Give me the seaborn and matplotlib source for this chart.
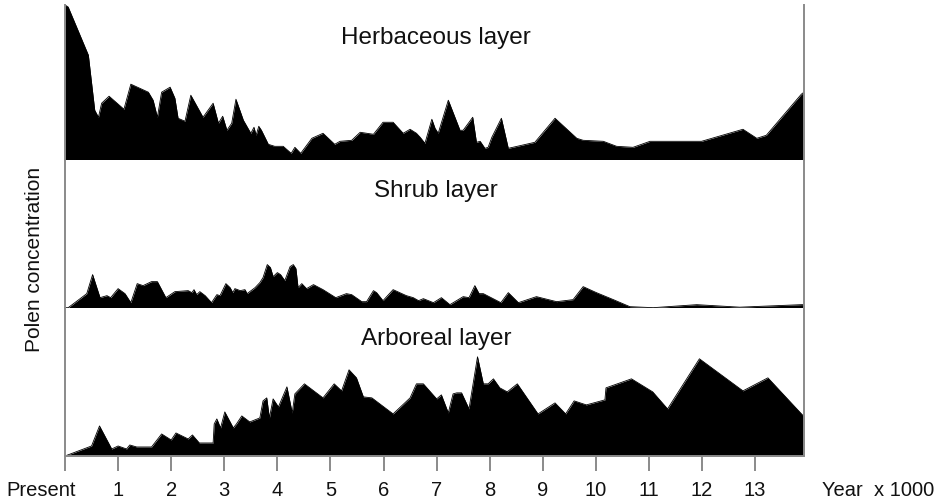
#%%
import numpy as np
import pandas as pd
import matplotlib
matplotlib.use("Agg")
import matplotlib.pyplot as plt
import matplotlib.transforms as mtransforms
import seaborn as sns


#%%
# years x 1000 before present, values in relative concentration units

herb_years = [0.0, 0.06, 0.44, 0.56, 0.63, 0.69, 0.83, 1.11, 1.24, 1.57, 1.66, 1.74, 1.82, 1.98,
              2.07, 2.13, 2.26, 2.37, 2.60, 2.79, 2.89, 2.97, 3.05, 3.14, 3.22, 3.36, 3.50, 3.56,
              3.60, 3.65, 3.70, 3.83, 3.95, 4.11, 4.26, 4.33, 4.44, 4.65, 4.86, 5.08, 5.18, 5.40,
              5.56, 5.81, 5.99, 6.18, 6.37, 6.50, 6.62, 6.69, 6.78, 6.91, 6.97, 7.03, 7.22, 7.44,
              7.50, 7.68, 7.75, 7.82, 7.91, 7.97, 8.04, 8.22, 8.35, 8.85, 9.23, 9.64, 9.76, 10.14,
              10.39, 10.70, 11.02, 11.99, 12.77, 13.03, 13.21, 13.87, 13.92]
herb_values = [155, 153, 105, 50, 43, 57, 64, 51, 76, 68, 60, 43, 68, 73,
               62, 42, 39, 65, 43, 57, 37, 44, 30, 37, 61, 40, 27, 33,
               25, 34, 30, 16, 14, 14, 7, 13, 7, 22, 27, 16, 19, 20,
               28, 26, 38, 38, 27, 31, 27, 23, 17, 41, 32, 27, 60, 30,
               30, 43, 18, 19, 12, 13, 23, 42, 12, 18, 42, 22, 20, 19,
               14, 13, 19, 19, 31, 22, 25, 66, 68]

shrub_years = [0.0, 0.06, 0.41, 0.52, 0.66, 0.79, 0.86, 1.00, 1.13, 1.24, 1.36, 1.47, 1.63, 1.74,
               1.90, 2.07, 2.32, 2.39, 2.43, 2.48, 2.54, 2.64, 2.76, 2.86, 2.92, 3.03, 3.11, 3.16,
               3.20, 3.30, 3.39, 3.43, 3.58, 3.67, 3.73, 3.81, 3.87, 3.92, 4.00, 4.06, 4.14, 4.24,
               4.30, 4.35, 4.39, 4.46, 4.55, 4.68, 4.86, 5.10, 5.30, 5.40, 5.59, 5.68, 5.81, 5.87,
               5.99, 6.18, 6.43, 6.56, 6.66, 6.75, 6.94, 7.09, 7.25, 7.50, 7.61, 7.72, 7.80, 7.88,
               8.21, 8.35, 8.54, 8.88, 9.26, 9.57, 9.76, 10.01, 10.33, 10.64, 11.08, 11.90, 12.71,
               13.87, 13.92]
shrub_values = [0, 0, 14, 33, 10, 12, 10, 19, 14, 5, 24, 22, 26, 26,
                10, 16, 17, 15, 18, 13, 16, 12, 5, 13, 12, 24, 20, 15,
                19, 17, 18, 14, 20, 25, 30, 43, 40, 31, 35, 33, 27, 41,
                43, 39, 20, 24, 19, 23, 18, 10, 14, 13, 6, 6, 17, 15,
                7, 18, 12, 10, 7, 9, 5, 10, 3, 11, 10, 22, 14, 14,
                5, 15, 5, 11, 6, 8, 21, 15, 8, 1, 0, 3, 0.5,
                3, 3]

arbo_years = [0.0, 0.50, 0.65, 0.88, 1.00, 1.16, 1.22, 1.35, 1.63, 1.82, 2.00, 2.09, 2.32, 2.40,
              2.53, 2.79, 2.81, 2.86, 2.93, 3.01, 3.17, 3.23, 3.33, 3.48, 3.67, 3.73, 3.80, 3.85,
              3.92, 4.02, 4.18, 4.28, 4.33, 4.51, 4.86, 5.07, 5.21, 5.35, 5.49, 5.62, 5.78, 6.18,
              6.50, 6.62, 6.75, 7.00, 7.09, 7.22, 7.31, 7.38, 7.47, 7.61, 7.77, 7.88, 7.97, 8.07,
              8.19, 8.33, 8.52, 8.91, 9.23, 9.43, 9.59, 9.82, 10.17, 10.19, 10.67, 11.07, 11.35,
              11.95, 12.77, 13.24, 13.89, 13.92]
arbo_values = [0, 10, 30, 7, 10, 7, 11, 9, 9, 22, 16, 23, 17, 21,
               13, 13, 32, 37, 28, 44, 28, 32, 40, 34, 38, 55, 58, 38,
               57, 49, 69, 43, 62, 72, 58, 72, 65, 86, 78, 59, 58, 42,
               58, 72, 72, 57, 61, 43, 62, 63, 63, 47, 99, 72, 72, 77,
               68, 64, 72, 42, 53, 42, 55, 51, 56, 68, 77, 64, 47,
               97, 65, 78, 41, 40]

layer_names = ["Herbaceous layer", "Shrub layer", "Arboreal layer"]
tick_years = list(range(14))
tick_labels = ["Present"] + [str(i) for i in range(1, 14)]


#%%
sns.set_style("white")
plt.rcParams['font.family'] = ['Liberation Sans', 'DejaVu Sans']

capas = [
    pd.DataFrame({"anio": herb_years, "polen": herb_values}),
    pd.DataFrame({"anio": shrub_years, "polen": shrub_values}),
    pd.DataFrame({"anio": arbo_years, "polen": arbo_values}),
]
alturas = [155, 147, 148]

fig, axes = plt.subplots(3, 1, sharex=True, figsize=(9.41, 5.04), dpi=100,
                         gridspec_kw={"height_ratios": alturas, "hspace": 0})
fig.subplots_adjust(left=65 / 941, right=804 / 941, top=1 - 5 / 504, bottom=1 - 456 / 504)

gris = "#8a8a8a"
for ax, df, nombre, alto in zip(axes, capas, layer_names, alturas):
    ax.fill_between(df["anio"], 0, df["polen"], color="black", linewidth=0)
    sns.lineplot(data=df, x="anio", y="polen", ax=ax, color="black", linewidth=0.6)
    ax.set_ylim(0, alto)
    ax.set_xlim(0, 13.92)
    ax.set_yticks([])
    ax.set_ylabel("")
    ax.set_xlabel("")
    for lado in ["top", "bottom"]:
        ax.spines[lado].set_visible(False)
    for lado in ["left", "right"]:
        ax.spines[lado].set_color(gris)
        ax.spines[lado].set_linewidth(1.4)
    ax.text(0.502, 0.79, nombre, transform=ax.transAxes, ha="center", va="center",
            fontsize=17.5, color="#111111")

ax_b = axes[-1]
ax_b.spines["bottom"].set_visible(True)
ax_b.spines["bottom"].set_color(gris)
ax_b.spines["bottom"].set_linewidth(1.4)
ax_b.set_xticks(tick_years)
ax_b.set_xticklabels(tick_labels)
ax_b.tick_params(axis="x", which="both", bottom=True, length=10.8, width=1.4, color=gris,
                 direction="out", pad=7, labelsize=14.5, labelcolor="#111111")

# "Present" sits left of its tick
desplazar = mtransforms.ScaledTranslation(-0.235, 0, fig.dpi_scale_trans)
etiqueta = ax_b.get_xticklabels()[0]
etiqueta.set_transform(etiqueta.get_transform() + desplazar)

fig.text(822 / 941, 1 - 490 / 504, "Year  x 1000", ha="left", va="center",
         fontsize=14.5, color="#111111")
fig.text(35 / 941, 1 - 259 / 504, "Polen concentration", rotation=90,
         ha="center", va="center", fontsize=15, color="#111111")

fig.savefig("out.png", dpi=100)
